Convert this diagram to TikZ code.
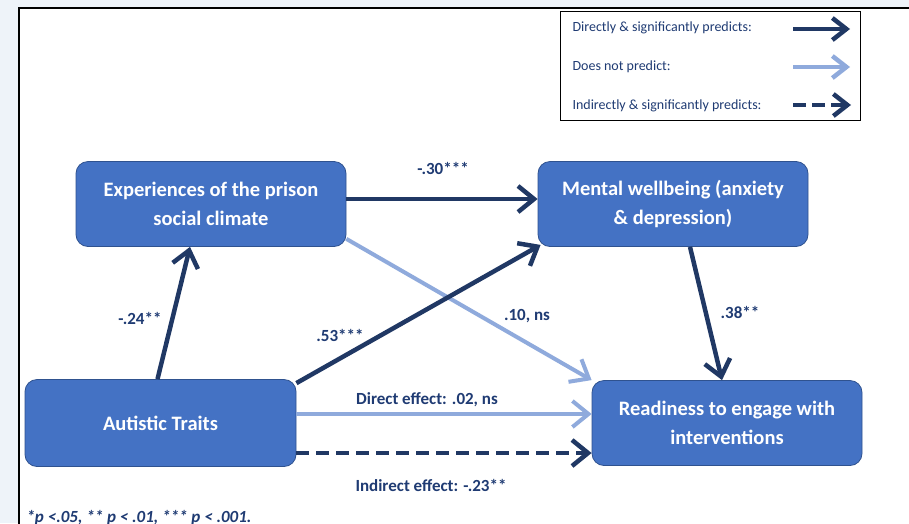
\documentclass[tikz,border=0pt]{standalone}
\usepackage{fontspec}
\setmainfont{Carlito}
\usetikzlibrary{arrows.meta,calc}
\definecolor{boxblue}{HTML}{4472C4}
\definecolor{boxedge}{HTML}{2F528F}
\definecolor{navy}{HTML}{203864}
\definecolor{lightarr}{HTML}{8FAADC}
\definecolor{txtnavy}{HTML}{1F3B73}
\definecolor{bgc}{HTML}{EEF3F9}
\begin{document}
\begin{tikzpicture}[x=1pt,y=-1pt,
  box/.style={draw=boxedge,line width=0.8pt,fill=boxblue,rounded corners=12pt,
    minimum width=270pt,minimum height=85pt,align=center,text=white,
    font=\fontsize{20.5}{29}\selectfont\bfseries},
  lbl/.style={text=txtnavy,font=\fontsize{17}{19}\selectfont\bfseries},
  leg/.style={text=txtnavy,font=\fontsize{14}{16}\selectfont,anchor=west},
  sig/.style={draw=navy,line width=4.5pt,-{Straight Barb[length=16pt,width=26pt]}},
  ns/.style={draw=lightarr,line width=4pt,-{Straight Barb[length=16pt,width=26pt]}},
  ind/.style={sig,dash pattern=on 13pt off 7pt},
  legsig/.style={draw=navy,line width=4.5pt,-{Straight Barb[length=14pt,width=22pt]}},
  legns/.style={draw=lightarr,line width=4.5pt,-{Straight Barb[length=14pt,width=22pt]}},
]
\useasboundingbox (0,0) rectangle (909,523);
\fill[bgc] (0,0) rectangle (909,523);
\fill[white] (19,8) rectangle (912,526);
\draw[line width=2pt] (19,526) -- (19,8) -- (912,8);

% legend
\node[draw,line width=1.2pt,minimum width=300pt,minimum height=109pt,anchor=north west] (legend) at (560,11) {};
\node[leg] (l1) at (569,28) {Directly \& significantly predicts:};
\node[leg] (l2) at (569,67) {Does not predict:};
\node[leg] (l3) at (569,106) {Indirectly \& significantly predicts:};
\coordinate (a1s) at (793,29); \coordinate (a1e) at (850,29);
\coordinate (a2s) at (793,67); \coordinate (a2e) at (850,67);
\coordinate (a3s) at (793,105); \coordinate (a3e) at (851,105);
\draw[legsig] (a1s) -- (a1e);
\draw[legns] (a2s) -- (a2e);
\draw[legsig,dash pattern=on 13pt off 6pt] (a3s) -- (a3e);

% boxes
\node[box] (exp) at (211,204) {Experiences of the prison\\social climate};
\node[box] (ment) at (673,204) {Mental wellbeing (anxiety\\\& depression)};
\node[box] (read) at (727,423) {Readiness to engage with\\interventions};
\node[box,minimum width=271pt,minimum height=87pt] (aut) at (160.5,423) {Autistic Traits};

% connectors
\draw[sig] ($(exp.east)+(0,-5)$) -- ($(ment.west)+(0,-5)$);
\draw[sig] ($(aut.north)+(-3,0)$) -- ($(exp.south)+(-21,0)$);
\draw[ns] ($(exp.south east)+(0,-8)$) -- (read.north west);
\draw[sig] ($(aut.north east)+(0,4)$) -- ($(ment.south west)+(3,-2)$);
\draw[sig] ($(ment.south)+(17,0)$) -- ($(read.north)+(-5,0)$);
\draw[ns] ($(aut.east)+(0,-9)$) -- ($(read.west)+(0,-9)$);
\draw[ind] ($(aut.east)+(0,30)$) -- ($(read.west)+(0,30)$);

% labels
\node[lbl] (t1) at (443,168) {-.30***};
\node[lbl] (t2) at (140,318) {-.24**};
\node[lbl] (t3) at (340,335) {.53***};
\node[lbl] (t4) at (527,316) {.10, ns};
\node[lbl] (t5) at (740,312) {.38**};
\node[lbl] (t6) at (427,400) {Direct effect: .02, ns};
\node[lbl] (t7) at (431,485) {Indirect effect: -.23**};
\node[lbl,anchor=base west,font=\fontsize{17}{19}\selectfont\bfseries\itshape] (fn) at (23,522) {*p <.05, ** p < .01, *** p < .001.};
\end{tikzpicture}
\end{document}
